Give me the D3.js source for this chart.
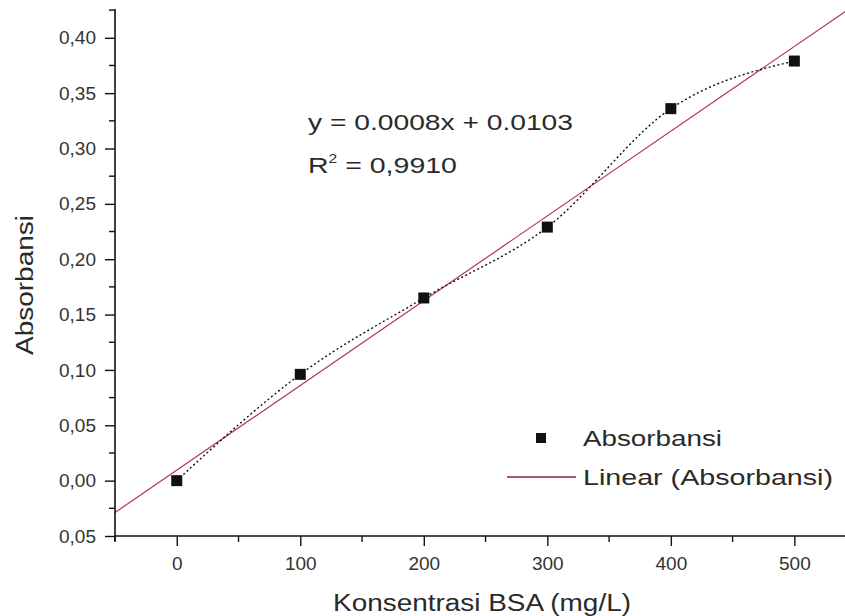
<!DOCTYPE html>
<html><head><meta charset="utf-8">
<script src="https://cdn.jsdelivr.net/npm/d3@7/dist/d3.min.js"></script>
<style>
html,body{margin:0;padding:0;background:#fff;}
text{font-family:"Liberation Sans",Arial,sans-serif;fill:#2a2a2a;}
</style></head>
<body>
<svg id="chart" width="845" height="616"></svg>
<script>
// ---- data ----
const concentrations = [0, 100, 200, 300, 400, 500];
const absorbance = [0.000, 0.096, 0.165, 0.229, 0.336, 0.379];
const xTickValues = [0, 100, 200, 300, 400, 500];
const xTickLabels = ["0", "100", "200", "300", "400", "500"];
const yTickValues = [-0.05, 0.00, 0.05, 0.10, 0.15, 0.20, 0.25, 0.30, 0.35, 0.40];
const yTickLabels = ["0,05", "0,00", "0,05", "0,10", "0,15", "0,20", "0,25", "0,30", "0,35", "0,40"];
const equationText = "y = 0.0008x + 0.0103";
const r2Value = "0,9910";
const seriesName = "Absorbansi";
const trendName = "Linear (Absorbansi)";
const xTitle = "Konsentrasi BSA (mg/L)";
const yTitle = "Absorbansi";

const svg = d3.select("#chart");
const x = d3.scaleLinear().domain([-50, 541]).range([115, 845]);
const y = d3.scaleLinear().domain([-0.05, 0.426]).range([536, 9]);

// least-squares trendline from the data
const n = concentrations.length;
const mx = d3.mean(concentrations), my = d3.mean(absorbance);
let sxy = 0, sxx = 0;
for (let i = 0; i < n; i++) { sxy += (concentrations[i]-mx)*(absorbance[i]-my); sxx += (concentrations[i]-mx)**2; }
const slope = sxy / sxx, intercept = my - slope * mx;

const plot = svg.append("g");
svg.append("clipPath").attr("id","clip").append("rect").attr("x",115).attr("y",9).attr("width",730).attr("height",527);
const xd = x.domain();
plot.append("line").attr("clip-path","url(#clip)")
  .attr("x1", x(xd[0])).attr("y1", y(slope*xd[0]+intercept))
  .attr("x2", x(xd[1])).attr("y2", y(slope*xd[1]+intercept))
  .attr("stroke", "#b8364a").attr("stroke-width", 1.2);

// smoothed dotted connecting line
const pts = concentrations.map((c,i)=>[c, absorbance[i]]);
plot.append("path").datum(pts)
  .attr("d", d3.line().x(d=>x(d[0])).y(d=>y(d[1])).curve(d3.curveMonotoneX))
  .attr("fill","none").attr("stroke","#111").attr("stroke-width",1.4).attr("stroke-dasharray","2,2.5");

// markers
const ms = 11;
plot.selectAll("rect.pt").data(pts).join("rect").attr("class","pt")
  .attr("x", d=>x(d[0])-ms/2).attr("y", d=>y(d[1])-ms/2)
  .attr("width", ms).attr("height", ms).attr("fill","#111");

// axes
const axisColor = "#111";
const xAxis = d3.axisBottom(x).tickValues(xTickValues).tickFormat((d,i)=>xTickLabels[i]).tickSize(10).tickPadding(11);
const gx = svg.append("g").attr("transform","translate(0,536)").call(xAxis);
gx.select(".domain").remove();
gx.append("line").attr("x1",115).attr("x2",845).attr("stroke",axisColor).attr("stroke-width",1.6);
gx.selectAll(".tick line").attr("stroke",axisColor).attr("stroke-width",1.4);
gx.selectAll(".tick text").attr("font-size",19).style("fill","#333").attr("font-family","Liberation Sans, Arial, sans-serif");
const xMinor = d3.range(-50, 541, 100);
gx.selectAll("line.minor").data(xMinor).join("line").attr("class","minor")
  .attr("x1",d=>x(d)).attr("x2",d=>x(d)).attr("y1",0).attr("y2",6).attr("stroke",axisColor).attr("stroke-width",1.4);

const yAxis = d3.axisLeft(y).tickValues(yTickValues).tickFormat((d,i)=>yTickLabels[i]).tickSize(10).tickPadding(9);
const gy = svg.append("g").attr("transform","translate(115,0)").call(yAxis);
gy.select(".domain").remove();
gy.append("line").attr("y1",9).attr("y2",541).attr("stroke",axisColor).attr("stroke-width",1.6);
gy.selectAll(".tick line").attr("stroke",axisColor).attr("stroke-width",1.4);
gy.selectAll(".tick text").attr("font-size",19).style("fill","#333").attr("font-family","Liberation Sans, Arial, sans-serif");
const yMinor = d3.range(-0.025, 0.426, 0.05);
gy.selectAll("line.minor").data(yMinor).join("line").attr("class","minor")
  .attr("y1",d=>y(d)).attr("y2",d=>y(d)).attr("x1",0).attr("x2",-6).attr("stroke",axisColor).attr("stroke-width",1.4);

// titles
svg.append("text").attr("x",482).attr("y",611).attr("text-anchor","middle").attr("font-size",23)
  .attr("textLength",298).attr("lengthAdjust","spacingAndGlyphs").text(xTitle);
svg.append("text").attr("transform","translate(33,285) rotate(-90)").attr("text-anchor","middle").attr("font-size",23)
  .attr("textLength",140).attr("lengthAdjust","spacingAndGlyphs").text(yTitle);

// equation
svg.append("text").attr("x",308).attr("y",130).attr("font-size",22)
  .attr("textLength",265).attr("lengthAdjust","spacingAndGlyphs").text(equationText);
const r2 = svg.append("text").attr("x",308).attr("y",173).attr("font-size",22)
  .attr("textLength",149).attr("lengthAdjust","spacingAndGlyphs");
r2.append("tspan").text("R");
r2.append("tspan").attr("font-size",12).attr("dy",-10).text("2");
r2.append("tspan").attr("dy",10).text(" = " + r2Value);

// legend
svg.append("rect").attr("x",541-5).attr("y",438-5).attr("width",10).attr("height",10).attr("fill","#111");
svg.append("text").attr("x",583).attr("y",446).attr("font-size",22)
  .attr("textLength",139).attr("lengthAdjust","spacingAndGlyphs").text(seriesName);
svg.append("line").attr("x1",507).attr("x2",576).attr("y1",477).attr("y2",477).attr("stroke","#8b2030").attr("stroke-width",1.5);
svg.append("text").attr("x",583).attr("y",485).attr("font-size",22)
  .attr("textLength",250).attr("lengthAdjust","spacingAndGlyphs").text(trendName);
</script>
</body></html>
